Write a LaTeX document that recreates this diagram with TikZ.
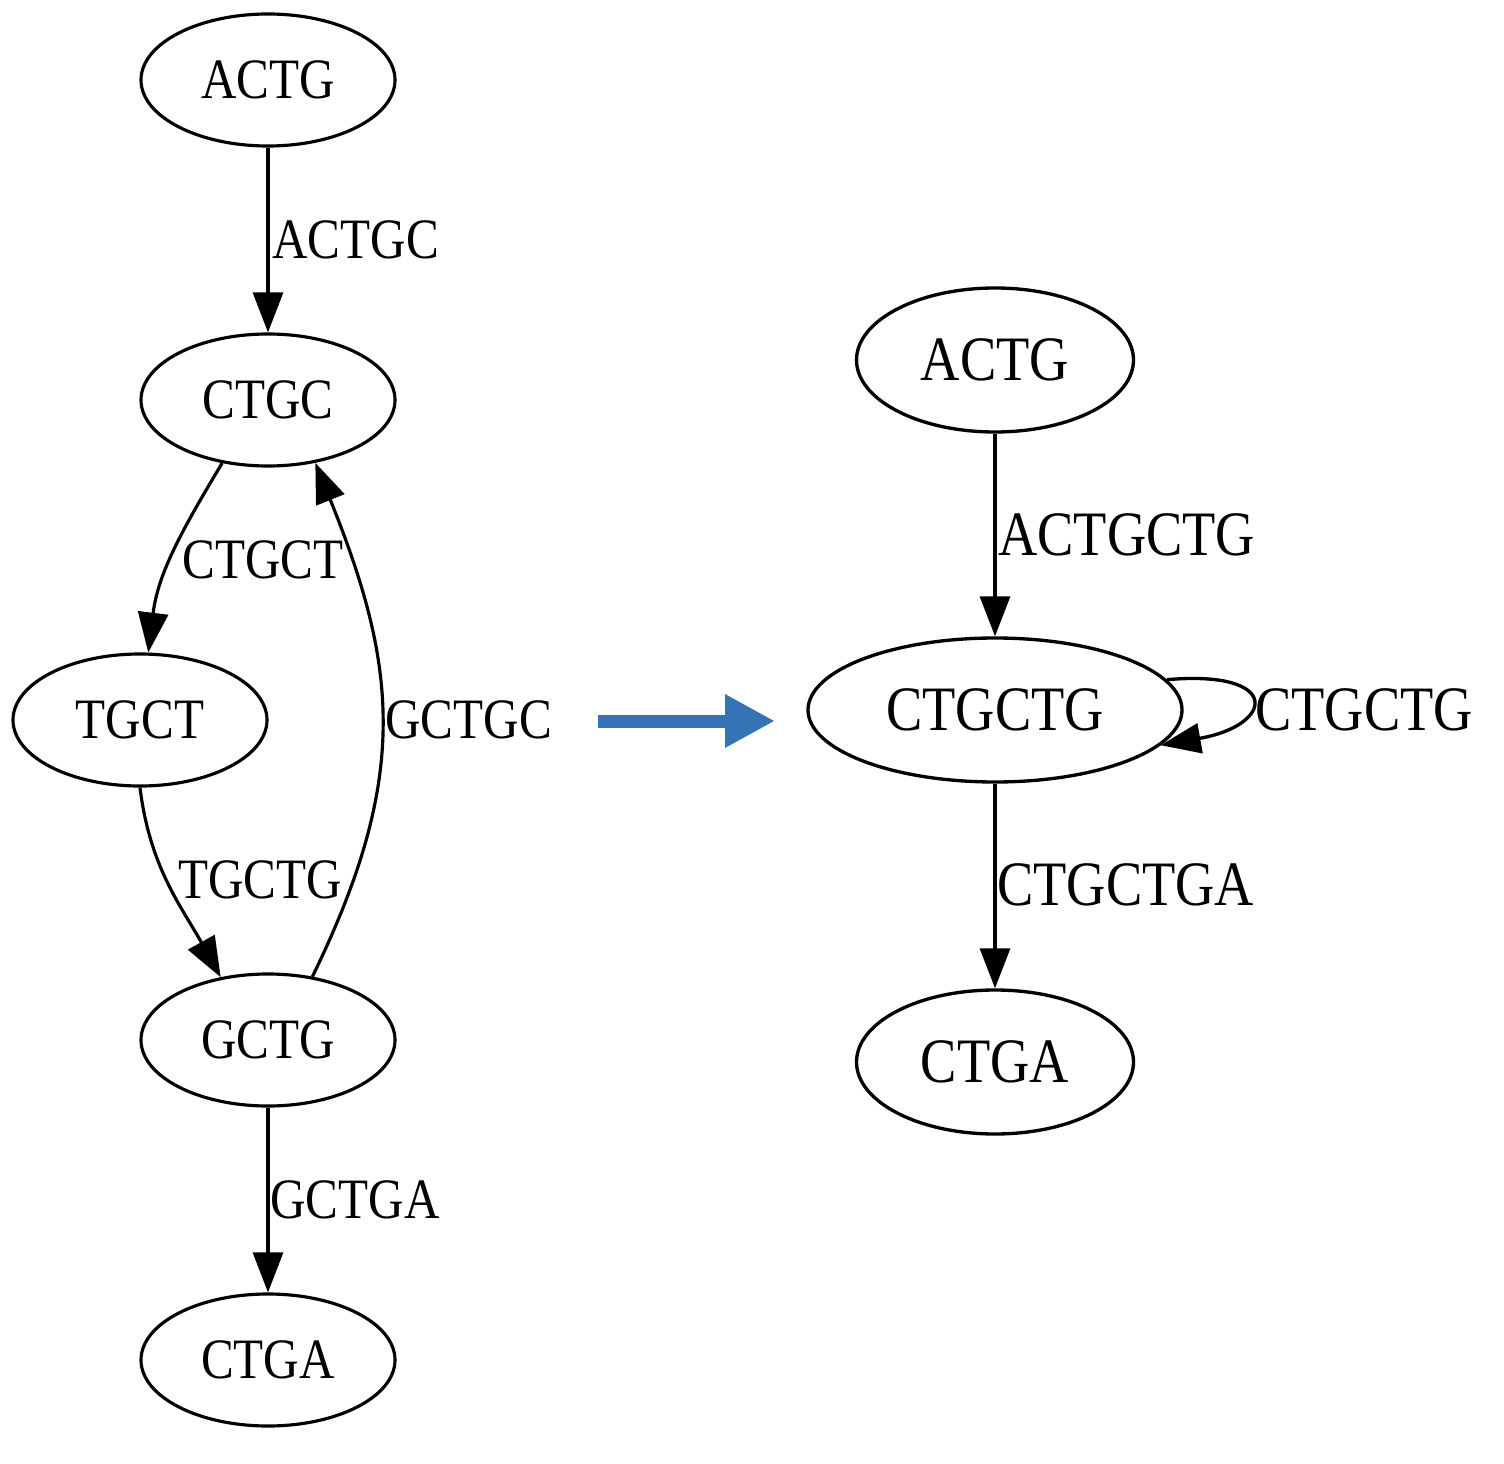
\documentclass[tikz,border=0pt]{standalone}
\usepackage{fontspec}
\setmainfont{Liberation Serif}[FakeStretch=0.86]
\usetikzlibrary{positioning,arrows.meta,shapes.geometric}

\definecolor{arrowblue}{RGB}{52,116,182}
\newcommand{\smallkmer}{\fontsize{32.5}{36}\selectfont}
\newcommand{\bigkmerfont}{\fontsize{36}{40}\selectfont}

\begin{document}
\begin{tikzpicture}
[->, >={Triangle[length=8mm,width=6mm]},
    node distance=6.4cm, on grid,
    kmer/.style={ellipse, draw, line width=1.8pt, minimum width=5.08cm,
    minimum height=2.64cm, inner sep=0pt, font=\smallkmer},
    bigkmer/.style={kmer, line width=1.9pt, minimum width=5.54cm,
    minimum height=2.88cm, font=\bigkmerfont},
    edge/.style={line width=1.8pt},
    edgelabel/.style={anchor=west, inner sep=0pt, font=\smallkmer},
    bigedgelabel/.style={edgelabel, font=\bigkmerfont},
    ]
    \useasboundingbox (0,0) rectangle (30.08,-29.28);

    % de Bruijn graph, one node per 4-mer
    \node[kmer] (actg) at (5.36,-1.6) {ACTG};
    \node[kmer] (ctgc) [below=of actg] {CTGC};
    \node[kmer] (tgct) [below left=6.4cm and 2.56cm of ctgc] {TGCT};
    \node[kmer] (gctg) [below right=6.4cm and 2.56cm of tgct] {GCTG};
    \node[kmer] (ctga) [below=of gctg] {CTGA};

    \draw[edge] (actg) -- (ctgc);
    \draw[edge] (ctgc.234) to[out=239,in=83] (tgct.83);
    \draw[edge] (tgct.south) to[out=-83,in=119] (gctg.127);
    \draw[edge] (gctg.55) to[out=64,in=-68,looseness=1.1] (ctgc.-53);
    \draw[edge] (gctg) -- (ctga);

    \node[edgelabel] (l_actgc) at (5.44,-4.8) {ACTGC};
    \node[edgelabel] (l_ctgct) at (3.64,-11.2) {CTGCT};
    \node[edgelabel] (l_gctgc) at (7.7,-14.4) {GCTGC};
    \node[edgelabel] (l_tgctg) at (3.56,-17.6) {TGCTG};
    \node[edgelabel] (l_gctga) at (5.4,-24) {GCTGA};

    % compacted graph
    \node[bigkmer] (c_actg) at (19.9,-7.2) {ACTG};
    \node[bigkmer, minimum width=7.48cm] (c_ctgctg) [below=7cm of c_actg] {CTGCTG};
    \node[bigkmer] (c_ctga) [below=7.04cm of c_ctgctg] {CTGA};

    \draw[edge, line width=1.9pt] (c_actg) -- (c_ctgctg);
    \draw[edge, line width=1.9pt] (c_ctgctg) -- (c_ctga);
    \draw[edge, line width=1.9pt] (c_ctgctg.10) to[out=5,in=10,looseness=4.5] (c_ctgctg.-12);

    \node[bigedgelabel] (l_actgctg) at (19.96,-10.7) {ACTGCTG};
    \node[bigedgelabel] (l_ctgctga) at (19.94,-17.7) {CTGCTGA};
    \node[bigedgelabel] (l_loop) at (25.1,-14.2) {CTGCTG};

    % the big arrow between both graphs
    \coordinate (from) at (11.96,-14.42);
    \coordinate (to) at (15.5,-14.42);
    \draw[-{Triangle[length=1cm,width=1cm]}, line width=0.26cm, arrowblue] (from) -- (to);

\end{tikzpicture}
\end{document}
